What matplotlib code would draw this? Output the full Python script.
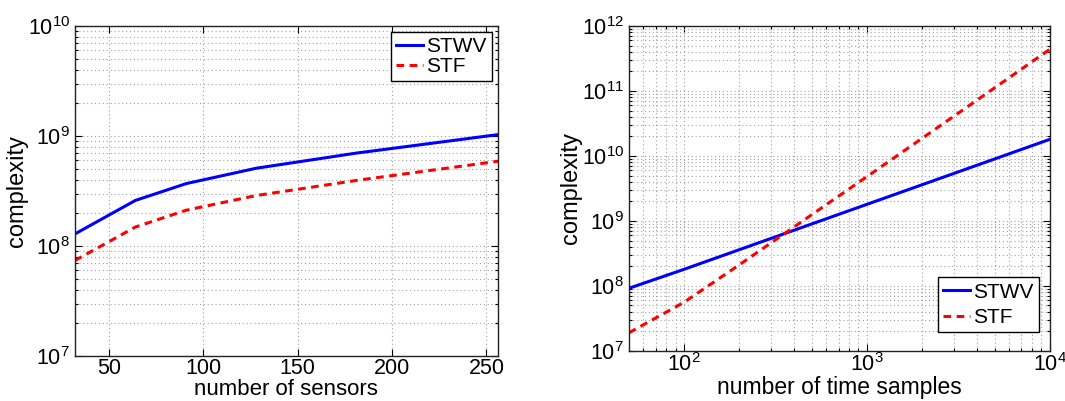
import matplotlib
matplotlib.use('Agg')
import matplotlib.pyplot as plt
from matplotlib.ticker import LogLocator, NullFormatter
import numpy as np

plt.rcParams['font.family'] = ['Liberation Sans', 'DejaVu Sans']
plt.rcParams['mathtext.fontset'] = 'custom'
plt.rcParams['mathtext.rm'] = 'Liberation Sans'
plt.rcParams['mathtext.it'] = 'Liberation Sans:italic'

# 左图：传感器数量
sensors = [32, 64, 91, 128, 181, 256]
sensors_stwv = [1.29e8, 2.6e8, 3.7e8, 5.1e8, 7.0e8, 1.03e9]
sensors_stf = [7.4e7, 1.49e8, 2.12e8, 2.88e8, 3.95e8, 5.9e8]

# 右图：时间采样数
samples = [50, 100, 200, 500, 1000, 2000, 5000, 10000]
samples_stwv = [9.2e7, 1.8e8, 3.6e8, 9.0e8, 1.8e9, 3.6e9, 9.0e9, 1.8e10]
samples_stf = [1.9e7, 5.6e7, 2.1e8, 1.25e9, 4.8e9, 1.86e10, 1.12e11, 4.37e11]

legend_names = ['STWV', 'STF']

fig = plt.figure(figsize=(10.65, 4.01), dpi=100)
ax1 = fig.add_axes([0.0704, 0.112, 0.397, 0.823])
ax2 = fig.add_axes([0.5906, 0.125, 0.395, 0.810])

grid_kw = dict(color='#a0a0a0', linestyle=(0, (1, 2.5)), linewidth=0.8)

def style_axes(ax):
    ax.tick_params(which='both', direction='in', top=True, right=True,
                   labelsize=15.5, width=0.8)
    ax.tick_params(axis='x', pad=1.5)
    ax.tick_params(which='major', length=5)
    ax.tick_params(which='minor', length=2.5)
    for s in ax.spines.values():
        s.set_linewidth(1.0)
        s.set_color('#222222')
    ax.set_axisbelow(True)

leg_kw = dict(fontsize=15, fancybox=False, framealpha=1, edgecolor='black',
              borderpad=0.25, handlelength=1.3, handletextpad=0.15,
              borderaxespad=0.0)

# left
ax1.plot(sensors, sensors_stwv, color='#0000ff', lw=2.2, label=legend_names[0])
ax1.plot(sensors, sensors_stf, color='#ff0000', lw=2.2, ls=(0, (2.5, 1.8)), label=legend_names[1])
ax1.set_yscale('log')
ax1.set_xlim(32, 256)
ax1.set_ylim(1e7, 1e10)
ax1.set_xticks([50, 100, 150, 200, 250])
ax1.yaxis.set_major_locator(LogLocator(base=10, numticks=10))
ax1.yaxis.set_minor_locator(LogLocator(base=10, subs=np.arange(2, 10), numticks=20))
ax1.yaxis.set_minor_formatter(NullFormatter())
ax1.xaxis.grid(True, which='major', **grid_kw)
ax1.yaxis.grid(True, which='both', **grid_kw)
style_axes(ax1)
ax1.set_xlabel('number of sensors', fontsize=16, labelpad=0)
ax1.set_ylabel('complexity', fontsize=17, labelpad=0)
leg1 = ax1.legend(loc='upper right', bbox_to_anchor=(0.986, 0.982),
                  labelspacing=0.05, **leg_kw)
leg1.get_frame().set_linewidth(1.0)

# right
ax2.plot(samples, samples_stwv, color='#0000ff', lw=2.2, label=legend_names[0])
ax2.plot(samples, samples_stf, color='#ff0000', lw=2.2, ls=(0, (2.5, 1.8)), label=legend_names[1])
ax2.set_xscale('log')
ax2.set_yscale('log')
ax2.set_xlim(50, 1e4)
ax2.set_ylim(1e7, 1e12)
for axis in (ax2.xaxis, ax2.yaxis):
    axis.set_major_locator(LogLocator(base=10, numticks=10))
    axis.set_minor_locator(LogLocator(base=10, subs=np.arange(2, 10), numticks=20))
    axis.set_minor_formatter(NullFormatter())
ax2.grid(True, which='both', **grid_kw)
style_axes(ax2)
ax2.set_xlabel('number of time samples', fontsize=16.5, labelpad=0)
ax2.set_ylabel('complexity', fontsize=17, labelpad=0)
leg2 = ax2.legend(loc='lower right', bbox_to_anchor=(0.974, 0.058),
                  labelspacing=0.3, **leg_kw)
leg2.get_frame().set_linewidth(1.0)

fig.savefig('out.png', dpi=100)
